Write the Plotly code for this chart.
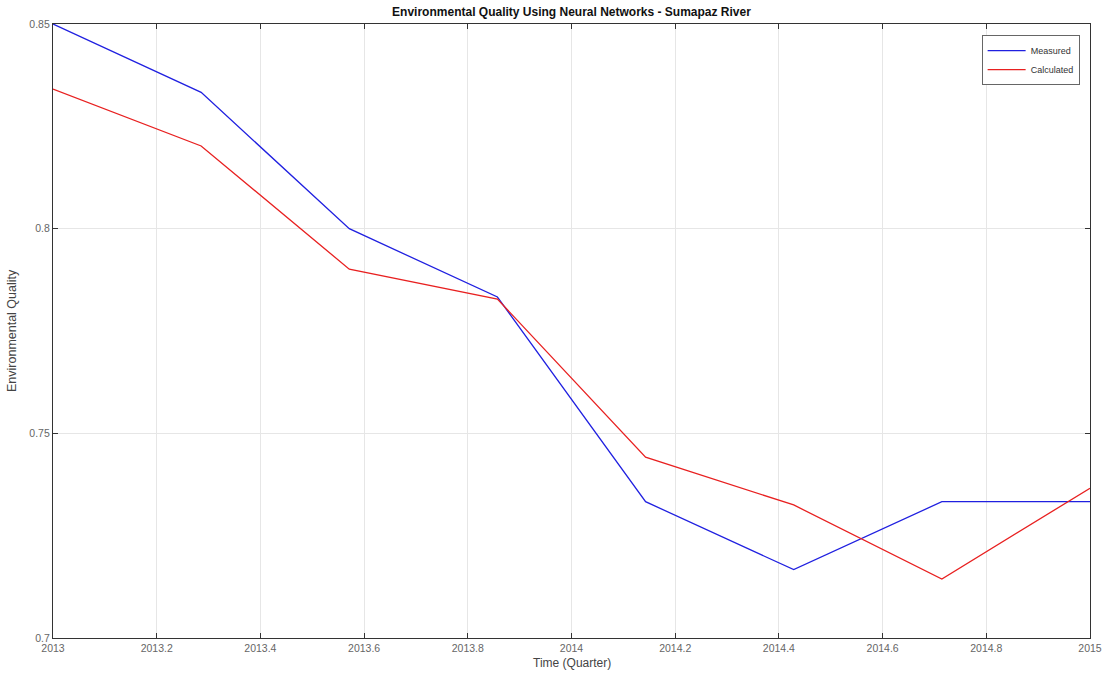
import plotly.graph_objects as go

time = [2013 + k * 2 / 7 for k in range(8)]
measured = [0.85, 0.8333, 0.80, 0.7833, 0.7333, 0.7167, 0.7333, 0.7333]
calculated = [0.8341, 0.8202, 0.7901, 0.7828, 0.7442, 0.7325, 0.7144, 0.7366]
x_ticks = [2013, 2013.2, 2013.4, 2013.6, 2013.8, 2014, 2014.2, 2014.4, 2014.6, 2014.8, 2015]
x_tick_labels = ["2013", "2013.2", "2013.4", "2013.6", "2013.8", "2014", "2014.2", "2014.4", "2014.6", "2014.8", "2015"]
y_ticks = [0.7, 0.75, 0.8, 0.85]
y_tick_labels = ["0.7", "0.75", "0.8", "0.85"]

fig = go.Figure()
fig.add_trace(go.Scatter(x=time, y=measured, mode="lines", name="Measured",
                         line=dict(color="#2020e0", width=1.3)))
fig.add_trace(go.Scatter(x=time, y=calculated, mode="lines", name="Calculated",
                         line=dict(color="#e82020", width=1.3)))

font = "Liberation Sans, Arial, sans-serif"
W, H = 1102, 676
L, R, T, B = 53, 12, 24, 38
fig.update_layout(
    width=W, height=H,
    margin=dict(l=L, r=R, t=T, b=B, autoexpand=False),
    paper_bgcolor="white", plot_bgcolor="white",
    title=dict(text="<b>Environmental Quality Using Neural Networks - Sumapaz River</b>",
               x=0.5, xref="paper", xanchor="center", y=1 - 12 / H, yanchor="middle",
               font=dict(family=font, size=12, color="#111")),
    font=dict(family=font, size=10, color="#444"),
    showlegend=True,
    legend=dict(x=0.990, y=0.982, xanchor="right", yanchor="top",
                bgcolor="white", bordercolor="#666", borderwidth=1,
                font=dict(size=9, color="#333"), tracegroupgap=0,
                itemwidth=38),
    xaxis=dict(range=[2013, 2015], tickvals=x_ticks, ticktext=x_tick_labels,
               showgrid=True, gridcolor="#e6e6e6", gridwidth=1,
               showline=True, linecolor="#333", linewidth=1.2, mirror="ticks",
               ticks="inside", ticklen=5, tickcolor="#333",
               zeroline=False, automargin=False,
               tickfont=dict(size=10.5, color="#666")),
    yaxis=dict(range=[0.7, 0.85], tickvals=y_ticks, ticktext=y_tick_labels,
               showgrid=True, gridcolor="#e6e6e6", gridwidth=1,
               showline=True, linecolor="#333", linewidth=1.2, mirror="ticks",
               ticks="inside", ticklen=5, tickcolor="#333",
               zeroline=False, automargin=False,
               tickfont=dict(size=10.5, color="#666")),
)
fig.add_annotation(text="Time (Quarter)", xref="paper", yref="paper",
                   x=0.5, y=-(663 - (H - B)) / (H - T - B), xanchor="center", yanchor="middle",
                   showarrow=False, font=dict(family=font, size=12, color="#444"))
fig.add_annotation(text="Environmental Quality", xref="paper", yref="paper",
                   x=-(L - 12) / (W - L - R), y=0.5, xanchor="center", yanchor="middle",
                   textangle=-90, showarrow=False, font=dict(family=font, size=12.5, color="#444"))

fig.write_html("out.html", config={"displayModeBar": False},
               post_script="document.body.style.margin='0';document.body.style.overflow='hidden';")
